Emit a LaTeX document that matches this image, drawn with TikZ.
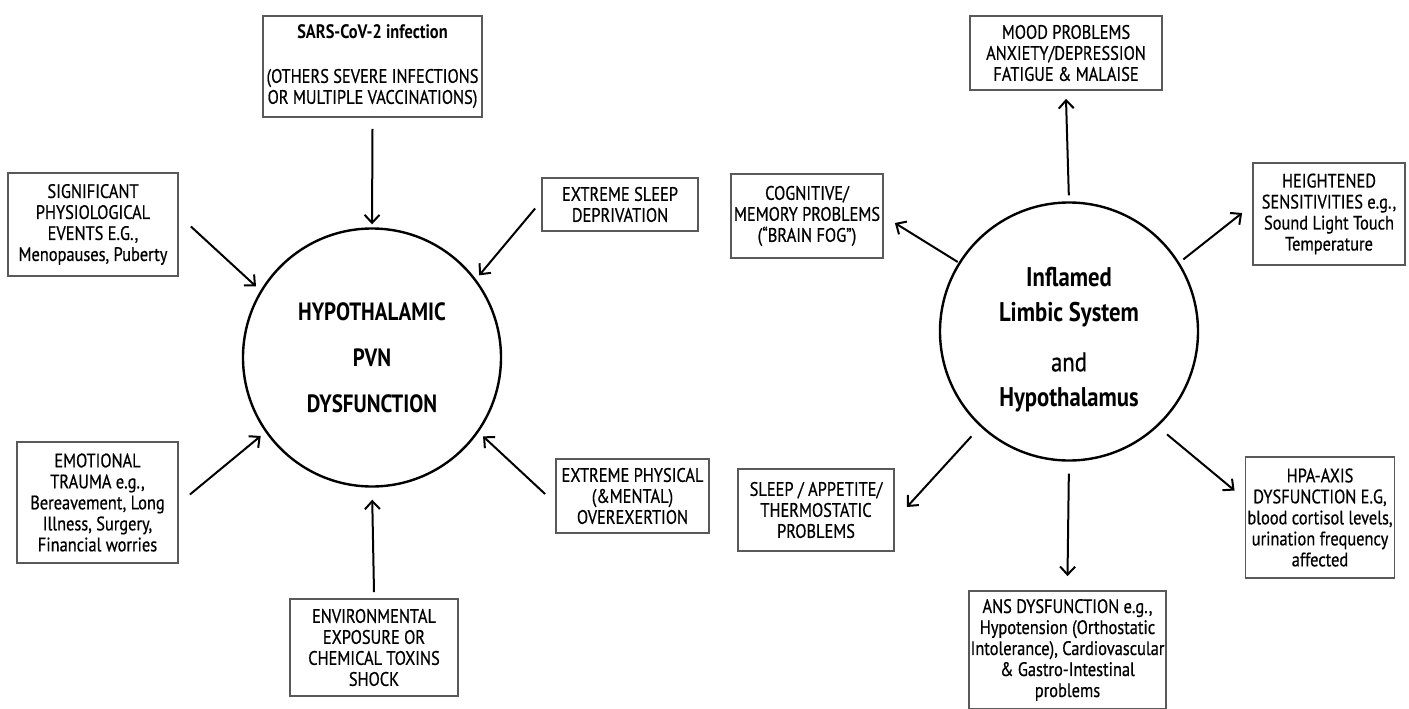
\documentclass[tikz,border=0pt]{standalone}
\usepackage{fontspec}
\setmainfont{PT Sans}[FakeStretch=0.84,UprightFeatures={FakeBold=0.6}]
\usetikzlibrary{arrows.meta}

\begin{document}
\begin{tikzpicture}[x=1pt,y=-1pt,
  box/.style={draw=black!65,line width=1.8pt,align=center,inner sep=2pt,
    font=\fontsize{19.5}{21}\selectfont},
  hub/.style={draw,circle,line width=2.4pt,minimum size=258pt,inner sep=0pt},
  arr/.style={line width=2pt,-{Straight Barb[length=8pt,width=15pt,line width=2pt]}}]
\useasboundingbox (0,0) rectangle (1409,709);
% left side
\node[hub,align=center,font=\bfseries\fontsize{25}{46}\selectfont] (hyp) at (372,357.5) {HYPOTHALAMIC\\PVN\\DYSFUNCTION};
\node[box,minimum width=219pt,minimum height=101pt] (sars) at (372.5,66.5) {\textbf{SARS-CoV-2 infection}\\[23pt](OTHERS SEVERE INFECTIONS\\OR MULTIPLE VACCINATIONS)};
\node[box,minimum width=170pt,minimum height=103pt] (sig) at (93,224.5) {SIGNIFICANT\\PHYSIOLOGICAL\\EVENTS E.G.,\\Menopauses, Puberty};
\node[box,minimum width=156pt,minimum height=53pt] (xsleep) at (620,204.5) {EXTREME SLEEP\\DEPRIVATION};
\node[box,minimum width=161pt,minimum height=121pt] (emo) at (97.5,502.5) {EMOTIONAL\\TRAUMA e.g.,\\Bereavement, Long\\Illness, Surgery,\\Financial worries};
\node[box,minimum width=153pt,minimum height=74pt] (phys) at (632.5,496) {EXTREME PHYSICAL\\(\&MENTAL)\\OVEREXERTION};
\node[box,minimum width=168pt,minimum height=97pt] (env) at (374,647.5) {ENVIRONMENTAL\\EXPOSURE OR\\CHEMICAL TOXINS\\SHOCK};
\draw[arr,shorten >=3pt] ([shift={(0,11)}]sars.south) -- (hyp.90);
\draw[arr,shorten >=6pt] ([shift={(12,2)}]sig.east) -- (hyp.149);
\draw[arr,shorten >=5pt] ([shift={(-6,4)}]xsleep.west) -- (hyp.37);
\draw[arr,shorten >=6pt] ([shift={(11,-8)}]emo.east) -- (hyp.215);
\draw[arr,shorten >=6pt] ([shift={(-10,-2)}]phys.west) -- (hyp.325);
\draw[arr,shorten >=12pt] ([shift={(0,-6)}]env.north) -- (hyp.270);
% right side
\node[hub] (limb) at (1069,331.5) {};
\node[align=center,font=\bfseries\fontsize{27}{35}\selectfont] (limbtxt) at ([shift={(0,8)}]limb.center) {Inflamed\\Limbic System\\[15pt]{\mdseries and}\\Hypothalamus};
\node[box,minimum width=192pt,minimum height=74pt] (mood) at (1066,53) {MOOD PROBLEMS\\ANXIETY/DEPRESSION\\FATIGUE \& MALAISE};
\node[box,minimum width=152pt,minimum height=84pt] (cog) at (807,216) {COGNITIVE/\\MEMORY PROBLEMS\\(``BRAIN FOG'')};
\node[box,minimum width=152pt,minimum height=102pt] (heigh) at (1329,214) {HEIGHTENED\\SENSITIVITIES e.g.,\\Sound Light Touch\\Temperature};
\node[box,minimum width=156pt,minimum height=82pt] (slp) at (816,510) {SLEEP / APPETITE/\\THERMOSTATIC\\PROBLEMS};
\node[box,minimum width=195pt,minimum height=118pt] (ans) at (1067.5,650) {ANS DYSFUNCTION e.g.,\\Hypotension (Orthostatic\\Intolerance), Cardiovascular\\\& Gastro-Intestinal\\problems};
\node[box,minimum width=148pt,minimum height=121pt] (hpa) at (1320,517.5) {HPA-AXIS\\DYSFUNCTION E.G,\\blood cortisol levels,\\urination frequency\\affected};
\draw[arr,shorten <=6pt] (limb.90) -- ([shift={(0,8)}]mood.south);
\draw[arr,shorten <=1pt] (limb.148) -- ([shift={(11,7)}]cog.east);
\draw[arr,shorten <=5pt] (limb.32) -- ([shift={(-10,-1)}]heigh.west);
\draw[arr,shorten <=13pt] (limb.227.5) -- ([shift={(12,-3)}]slp.east);
\draw[arr,shorten <=12pt] (limb.270) -- ([shift={(0,-14)}]ans.north);
\draw[arr,shorten <=12pt] (limb.313) -- ([shift={(-10,-27)}]hpa.west);
\end{tikzpicture}
\end{document}
